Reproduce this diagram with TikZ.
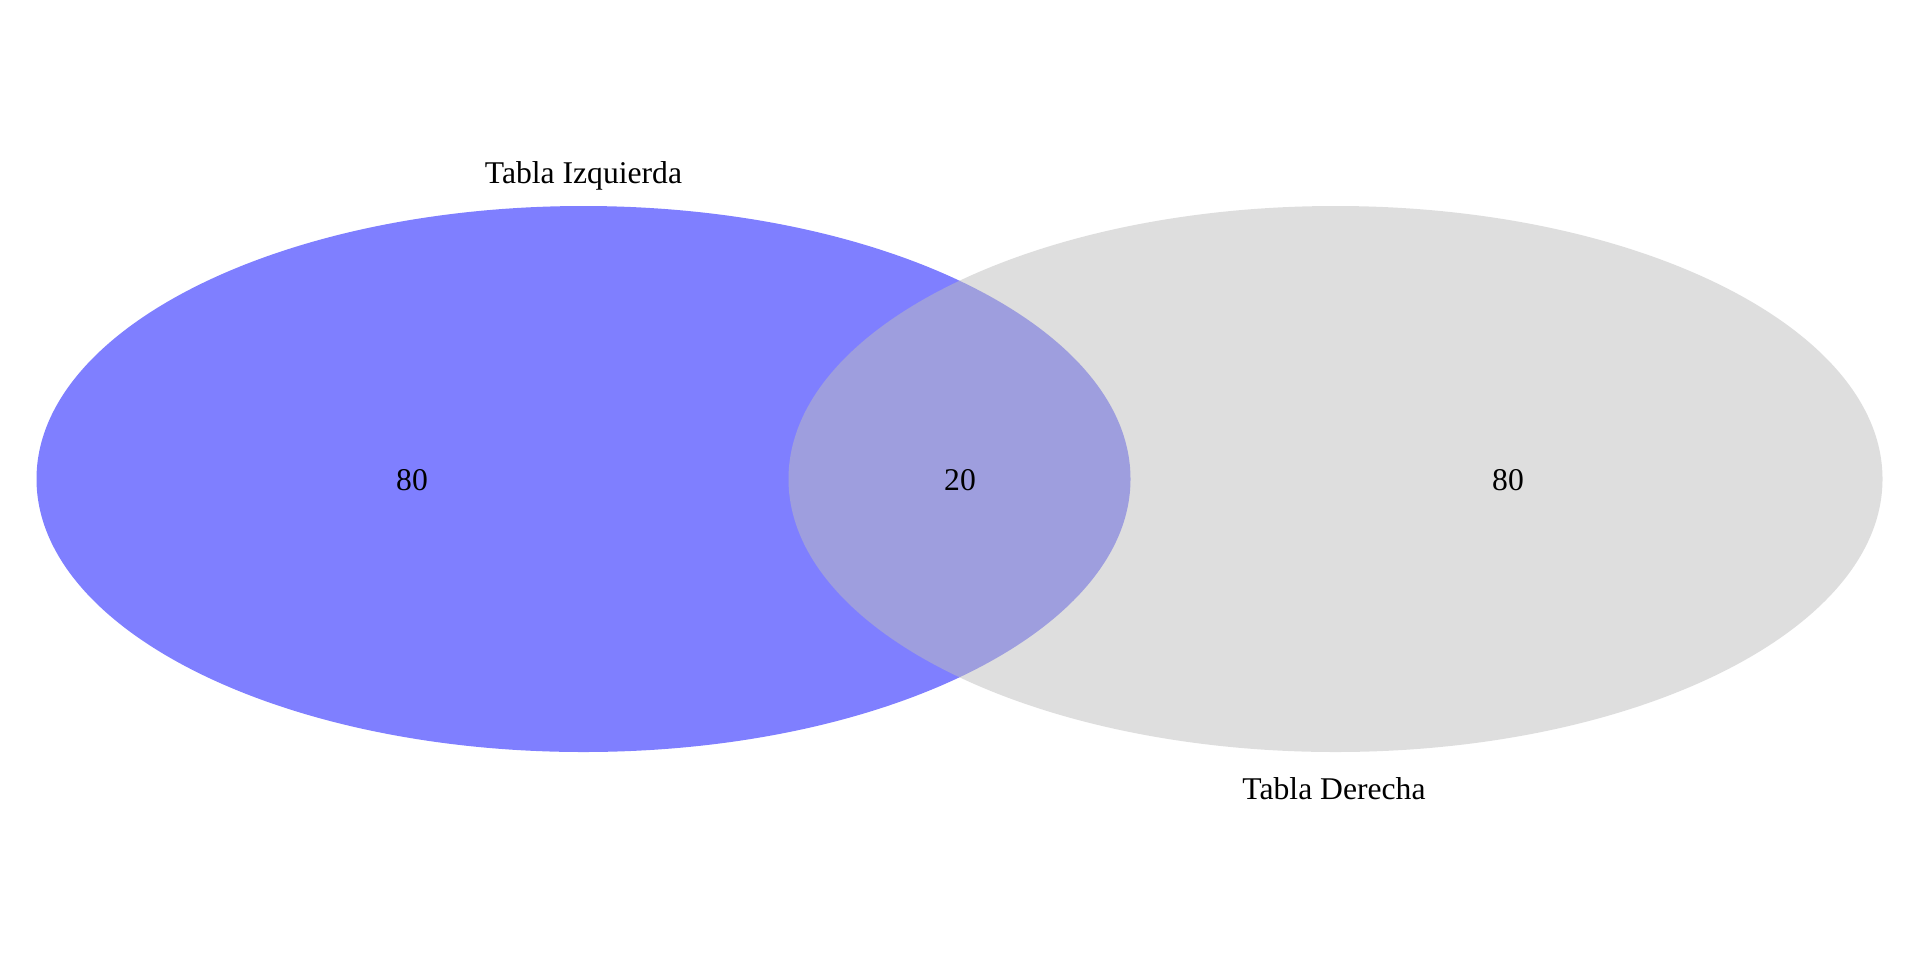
\documentclass[tikz,border=0pt]{standalone}
\usepackage{fontspec}
\setmainfont{Liberation Serif}
\usetikzlibrary{shapes.geometric}
\definecolor{setLeft}{HTML}{0000FF}
\definecolor{setRight}{HTML}{BDBDBD}
\tikzset{
  font=\fontsize{9.0}{10.8}\selectfont,
  setshape/.style={ellipse, draw=none, inner sep=0pt, fill opacity=0.5,
                   minimum width=10.94cm, minimum height=5.46cm},
  leftset/.style={setshape, fill=setLeft},
  rightset/.style={setshape, fill=setRight},
  count/.style={anchor=base, inner sep=0pt, text=black},
  setname/.style={anchor=base, inner sep=0pt, text=black},
}

\begin{document}
\begin{tikzpicture}
\useasboundingbox (0,0) rectangle (19.2,9.6);

% --- the two sets ---
\node[leftset]  (izq) at (5.835, 4.81) {};
\node[rightset] (der) at (13.355, 4.81) {};

% --- counts ---
\node[count] (onlyizq) at (4.12, 4.70) {80};
\node[count] (both)    at (9.60, 4.70) {20};
\node[count] (onlyder) at (15.08, 4.70) {80};

% --- set names ---
\node[setname] (nameizq) at (5.835, 7.77) {Tabla Izquierda};
\node[setname] (nameder) at (13.34, 1.61) {Tabla Derecha};

\end{tikzpicture}
\end{document}
